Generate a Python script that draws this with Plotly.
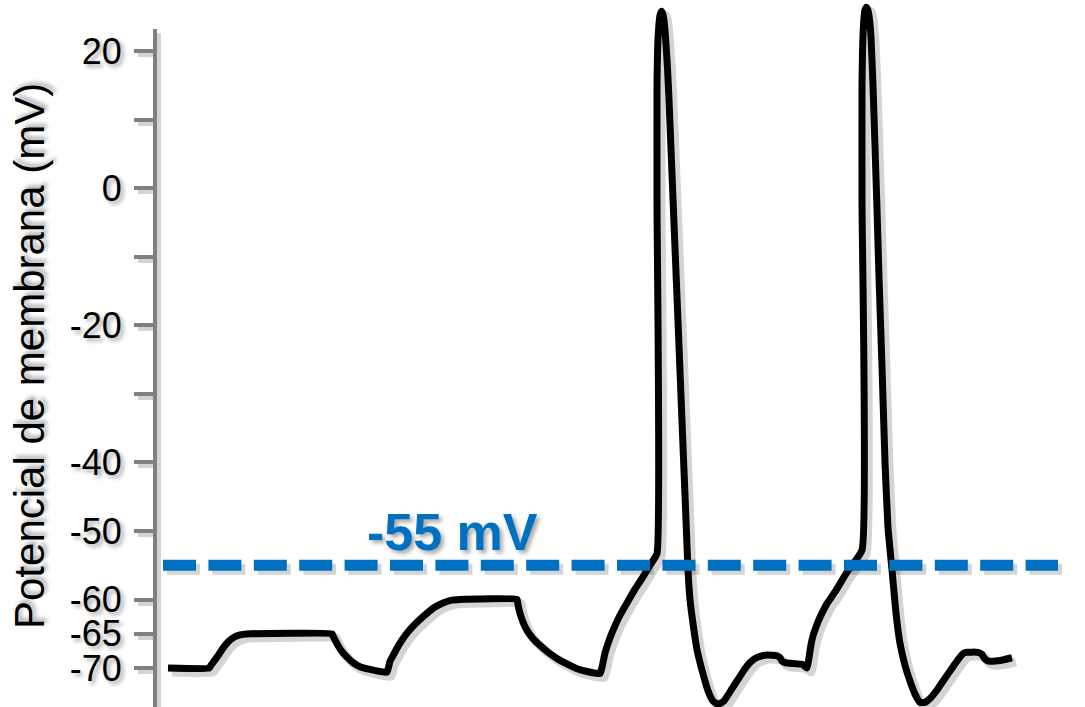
import plotly.graph_objects as go

# Membrane potential trace: time (ms, arbitrary origin) and voltage (mV)
tiempo_ms = [
    13, 54, 56, 59, 63, 68, 73, 78, 84, 90, 95, 177,
    178, 180, 183, 187, 192, 198, 205, 215, 225, 232,
    235, 238, 242, 247, 252, 258, 265, 272, 280, 288, 297, 305, 362,
    363, 365, 368, 372, 378, 385, 393, 402, 412, 422, 432, 445,
    447, 450, 454, 458, 465, 472, 480, 488, 495, 502,
    502, 502, 502.5, 503, 504, 505, 506.5, 508, 509.5, 511, 512.5, 514,
    518, 520, 524, 527, 531, 533, 535, 538, 542, 547, 553, 558, 563, 569,
    577, 585, 590, 595, 600, 605, 612, 622, 625, 627, 630, 635, 648, 652,
    654, 656, 658, 661, 665, 672, 680, 692, 707,
    707, 707, 707.5, 708, 709, 710, 711.5, 713, 714.5, 716, 718, 720, 722,
    724, 727, 730, 733, 737, 741, 745, 750, 755, 760, 765, 770, 776, 782,
    790, 798, 804, 808, 812, 823, 827, 829, 832, 836, 845, 857,
]
potencial_mV = [
    -70.0, -70.0, -69.6, -69.0, -68.2, -67.1, -66.2, -65.6, -65.2, -65.05, -65.0, -65.0,
    -65.3, -65.9, -66.7, -67.6, -68.4, -69.2, -69.8, -70.2, -70.5, -70.6,
    -69.0, -68.2, -67.1, -65.9, -64.9, -63.9, -62.9, -62.0, -61.1, -60.5, -60.1, -60.0, -60.0,
    -60.8, -62.0, -63.3, -64.5, -65.7, -66.7, -67.7, -68.6, -69.4, -70.1, -70.5, -70.8,
    -69.9, -67.8, -66.0, -64.5, -62.3, -60.5, -58.5, -56.7, -55.0, -53.3,
    -2.0, 15.0, 19.5, 21.8, 24.0, 25.2, 25.8, 25.3, 23.8, 21.0, 17.5, 12.9,
    -1.5, -8.7, -23.0, -34.0, -48.4, -55.7, -60.0, -63.5, -67.3, -70.3, -73.3, -74.8, -75.3, -74.8,
    -73.0, -71.2, -70.1, -69.2, -68.6, -68.3, -68.1, -68.2, -68.5, -69.0, -69.2, -69.3, -69.5, -70.0,
    -68.5, -66.6, -65.3, -64.0, -62.6, -60.6, -58.9, -56.0, -52.8,
    -2.0, 15.0, 19.8, 22.3, 24.8, 26.0, 26.4, 25.9, 24.6, 22.0, 15.0, 6.0, -3.0,
    -13.0, -26.0, -40.0, -49.5, -55.7, -62.0, -66.4, -69.6, -71.9, -73.8, -75.0, -75.0, -74.3, -73.2,
    -71.5, -69.8, -68.6, -67.9, -67.7, -67.7, -68.0, -68.5, -68.9, -69.0, -68.9, -68.5,
]

# Firing threshold
umbral_mV = -55
umbral_t = [8, 903]
umbral_texto = "-55 mV"

# Voltage axis ticks (blank labels are the unlabelled intermediate ticks)
ticks_mV = [20, 10, 0, -10, -20, -30, -40, -50, -60, -65, -70]
ticks_texto = ["20", "", "0", "", "-20", "", "-40", "-50", "-60", "-65", "-70"]
titulo_y = "Potencial de membrana (mV)"

# ---- geometry -------------------------------------------------------------
W, H = 1085, 707
ORIGEN_PX = 155        # pixel column where t = 0
DOM_PX = 157           # left edge of the plotting area
EJE_TOP_PX = 29        # top end of the voltage axis line
SOMBRA = 4             # drop-shadow offset in pixels
V_RANGE = [-75.68, 27.44]
MV_PX = H / (V_RANGE[1] - V_RANGE[0])

FUENTE = "Liberation Sans, Arial, sans-serif"
SOMBRA_TXT = "3px 3px 4px rgba(0,0,0,0.35)"
GRIS = "#808080"
AZUL = "#0070C0"
C_SOMBRA = "rgba(0,0,0,0.17)"
DASH = "33px,12.4px"
TRAZO = dict(shape="spline", smoothing=0.4)


def eje_x(dx):
    return dict(domain=[(DOM_PX + dx) / W, 1],
                range=[DOM_PX - ORIGEN_PX, W - ORIGEN_PX - dx],
                visible=False, showgrid=False, zeroline=False, fixedrange=True)


def eje_y(top_px, dy_px, **kw):
    lo = V_RANGE[0] + dy_px / MV_PX
    hi = V_RANGE[1] - (top_px - dy_px) / MV_PX
    base = dict(domain=[0, (H - top_px) / H], range=[lo, hi],
                showgrid=False, zeroline=False, fixedrange=True)
    base.update(kw)
    return base


fig = go.Figure()

# A: shadow of the membrane trace
fig.add_trace(go.Scatter(x=tiempo_ms, y=potencial_mV, mode="lines",
                         line=dict(color=C_SOMBRA, width=9, **TRAZO),
                         xaxis="x", yaxis="y", hoverinfo="skip", showlegend=False))
# B: membrane trace
fig.add_trace(go.Scatter(x=tiempo_ms, y=potencial_mV, mode="lines",
                         line=dict(color="black", width=7, **TRAZO),
                         xaxis="x2", yaxis="y2", showlegend=False))
# C: shadow of the threshold line
fig.add_trace(go.Scatter(x=umbral_t, y=[umbral_mV, umbral_mV], mode="lines",
                         line=dict(color=C_SOMBRA, width=11, dash=DASH),
                         xaxis="x3", yaxis="y3", hoverinfo="skip", showlegend=False))
# D: threshold line
fig.add_trace(go.Scatter(x=umbral_t, y=[umbral_mV, umbral_mV], mode="lines",
                         line=dict(color=AZUL, width=11, dash=DASH),
                         xaxis="x4", yaxis="y4", showlegend=False))

fig.update_layout(
    width=W, height=H,
    margin=dict(l=0, r=0, t=0, b=0),
    paper_bgcolor="white", plot_bgcolor="rgba(0,0,0,0)",
    showlegend=False,
    xaxis=dict(eje_x(SOMBRA), anchor="y"),
    yaxis=dict(eje_y(0, SOMBRA, visible=False), anchor="x"),
    xaxis2=dict(eje_x(0), anchor="y2"),
    yaxis2=dict(eje_y(0, 0, visible=False), anchor="x2"),
    xaxis3=dict(eje_x(SOMBRA), anchor="y3"),
    yaxis3=dict(eje_y(EJE_TOP_PX + SOMBRA, SOMBRA,
                      showline=True, linecolor=C_SOMBRA, linewidth=4,
                      ticks="outside", tickmode="array", tickvals=ticks_mV,
                      ticklen=19, tickwidth=4, tickcolor=C_SOMBRA,
                      showticklabels=False), anchor="x3"),
    xaxis4=dict(eje_x(0), anchor="y4"),
    yaxis4=dict(eje_y(EJE_TOP_PX, 0,
                      showline=True, linecolor=GRIS, linewidth=4,
                      ticks="outside", tickmode="array", tickvals=ticks_mV,
                      ticktext=ticks_texto, ticklen=19, tickwidth=4, tickcolor=GRIS,
                      ticklabelstandoff=5,
                      tickfont=dict(family=FUENTE, size=36, color="black",
                                    shadow=SOMBRA_TXT)), anchor="x4"),
    annotations=[
        dict(text=umbral_texto, xref="x4", yref="y4", x=297, y=umbral_mV,
             xanchor="center", yanchor="bottom", yshift=2, showarrow=False,
             font=dict(family=FUENTE, size=52, color=AZUL, weight="bold",
                       shadow=SOMBRA_TXT)),
        dict(text=titulo_y, xref="paper", yref="paper", x=30 / W, y=1 - 356 / H,
             xanchor="center", yanchor="middle", textangle=-90, showarrow=False,
             font=dict(family=FUENTE, size=42, color="black", shadow=SOMBRA_TXT)),
    ],
)

fig.write_html("out.html")
